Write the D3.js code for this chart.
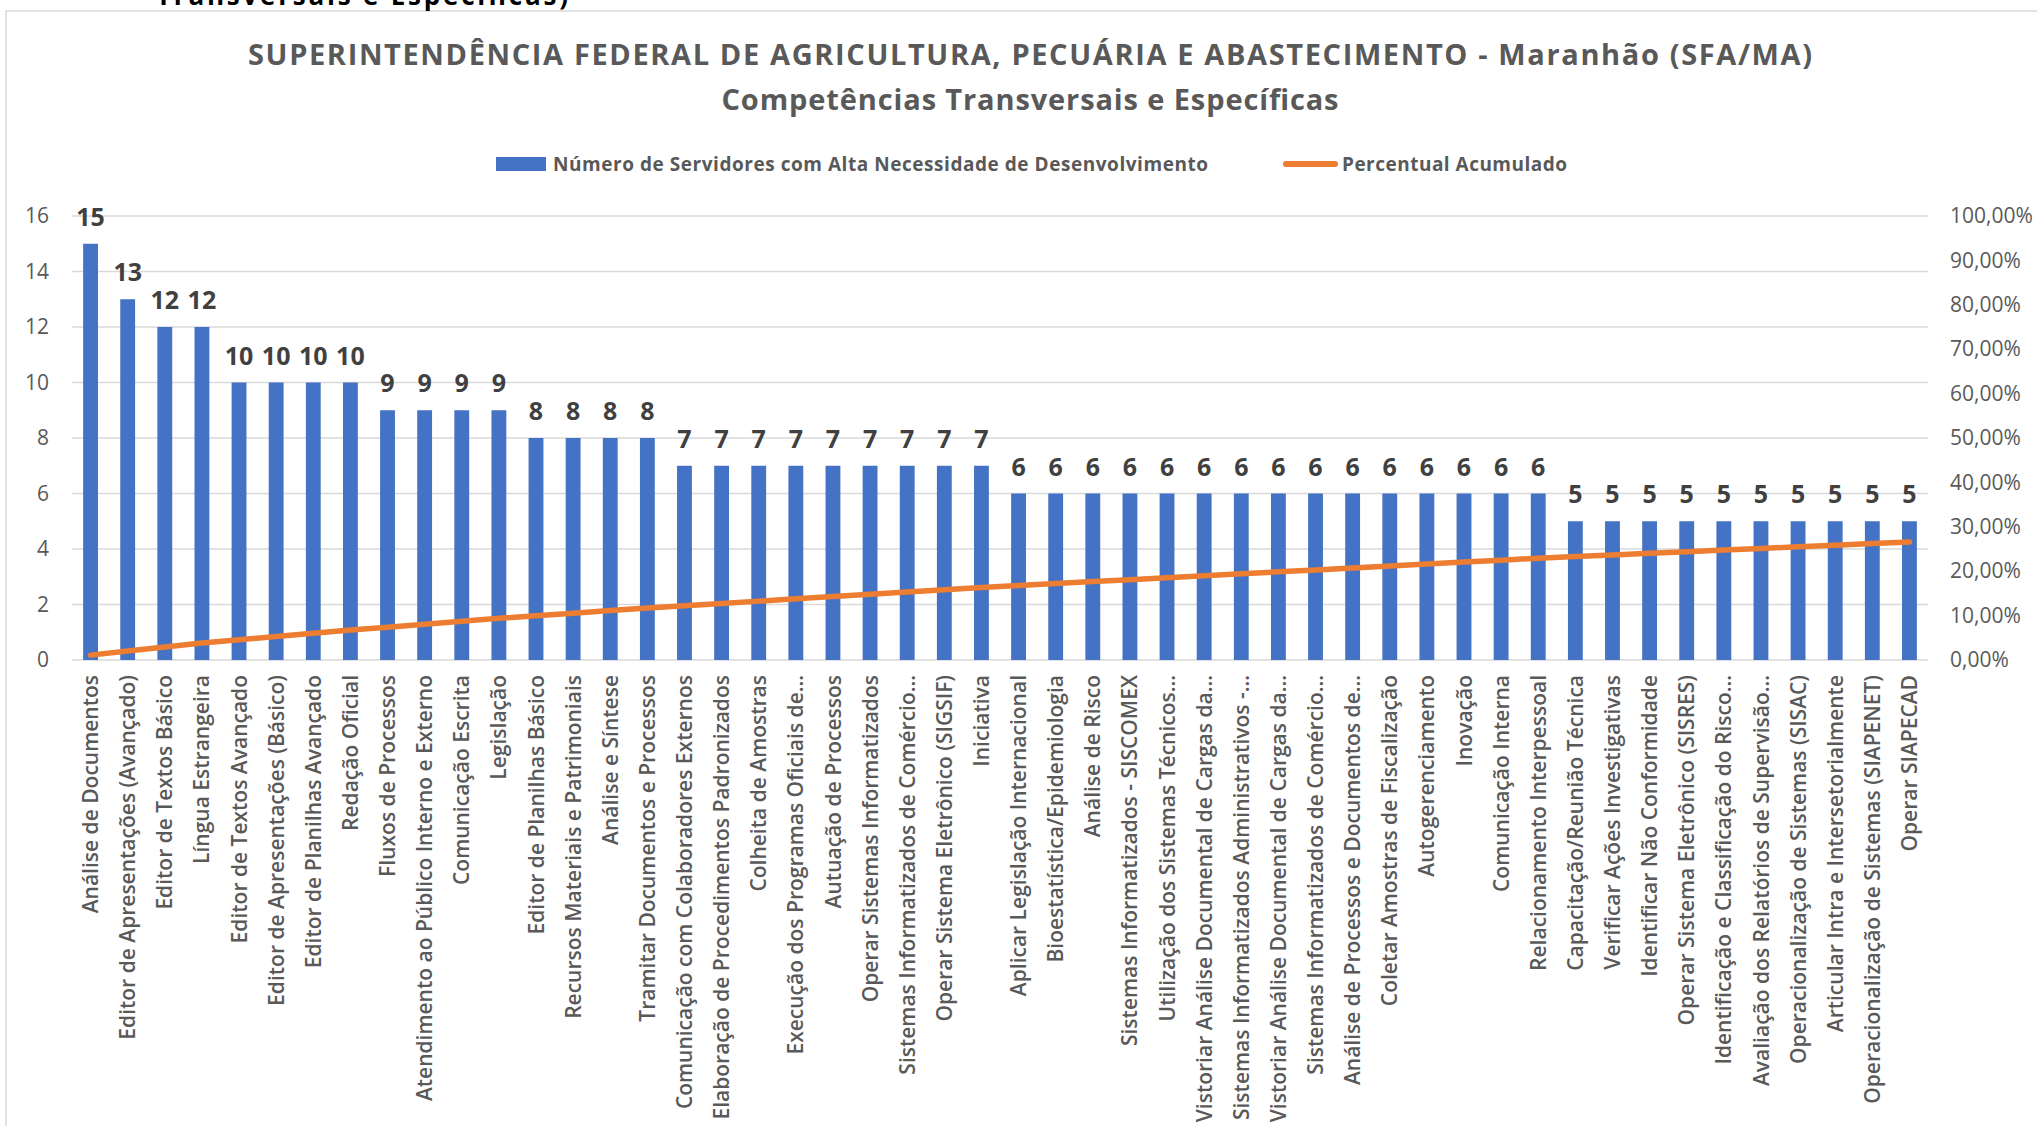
<!DOCTYPE html>
<html>
<head>
  <meta charset="utf-8">
  <script src="https://cdnjs.cloudflare.com/ajax/libs/d3/7.8.5/d3.min.js"></script>
  <title>SFA/MA - Competencias</title>
  <style>
    body { margin: 0; background: #fff; }
    text { font-family: "Open Sans", "Noto Sans", sans-serif; }
  </style>
</head>
<body>
<script>
// competencias (ordem do grafico)
const competencias = [
  "Análise de Documentos",
  "Editor de Apresentações (Avançado)",
  "Editor de Textos Básico",
  "Língua Estrangeira",
  "Editor de Textos Avançado",
  "Editor de Apresentações (Básico)",
  "Editor de Planilhas Avançado",
  "Redação Oficial",
  "Fluxos de Processos",
  "Atendimento ao Público Interno e Externo",
  "Comunicação Escrita",
  "Legislação",
  "Editor de Planilhas Básico",
  "Recursos Materiais e Patrimoniais",
  "Análise e Síntese",
  "Tramitar Documentos e Processos",
  "Comunicação com Colaboradores Externos",
  "Elaboração de  Procedimentos Padronizados",
  "Colheita de  Amostras",
  "Execução dos Programas Oficiais de...",
  "Autuação de Processos",
  "Operar Sistemas Informatizados",
  "Sistemas Informatizados de Comércio...",
  "Operar Sistema Eletrônico (SIGSIF)",
  "Iniciativa",
  "Aplicar Legislação Internacional",
  "Bioestatística/Epidemiologia",
  "Análise de Risco",
  "Sistemas Informatizados - SISCOMEX",
  "Utilização dos Sistemas Técnicos...",
  "Vistoriar Análise Documental de Cargas da...",
  "Sistemas Informatizados Administrativos -...",
  "Vistoriar Análise Documental de Cargas da...",
  "Sistemas Informatizados de Comércio...",
  "Análise de Processos e Documentos de...",
  "Coletar Amostras de Fiscalização",
  "Autogerenciamento",
  "Inovação",
  "Comunicação Interna",
  "Relacionamento Interpessoal",
  "Capacitação/Reunião Técnica",
  "Verificar Ações Investigativas",
  "Identificar Não Conformidade",
  "Operar Sistema Eletrônico (SISRES)",
  "Identificação e Classificação do Risco...",
  "Avaliação dos Relatórios de Supervisão...",
  "Operacionalização de Sistemas (SISAC)",
  "Articular Intra e Intersetorialmente",
  "Operacionalização de Sistemas (SIAPENET)",
  "Operar SIAPECAD"
];

// numero de servidores com alta necessidade
const servidores = [
  15, 13, 12, 12, 10, 10, 10, 10, 9, 9, 9, 9, 8, 8, 8, 8,
  7, 7, 7, 7, 7, 7, 7, 7, 7,
  6, 6, 6, 6, 6, 6, 6, 6, 6, 6, 6, 6, 6, 6, 6,
  5, 5, 5, 5, 5, 5, 5, 5, 5, 5
];

const acumulado = [
  0.0110, 0.0205, 0.0293, 0.0381, 0.0454, 0.0527, 0.0601, 0.0674, 0.0740, 0.0806,
  0.0872, 0.0938, 0.0996, 0.1055, 0.1114, 0.1172, 0.1223, 0.1275, 0.1326, 0.1377,
  0.1429, 0.1480, 0.1531, 0.1582, 0.1634, 0.1678, 0.1722, 0.1766, 0.1810, 0.1853,
  0.1897, 0.1941, 0.1985, 0.2029, 0.2073, 0.2117, 0.2161, 0.2205, 0.2249, 0.2293,
  0.2330, 0.2366, 0.2403, 0.2440, 0.2476, 0.2513, 0.2549, 0.2586, 0.2623, 0.2659
];

const ticksEsq = [0, 2, 4, 6, 8, 10, 12, 14, 16];
const ticksDir = [0, 0.1, 0.2, 0.3, 0.4, 0.5, 0.6, 0.7, 0.8, 0.9, 1];

const titulo1 = "SUPERINTENDÊNCIA FEDERAL DE AGRICULTURA, PECUÁRIA E ABASTECIMENTO - Maranhão (SFA/MA)";
const titulo2 = "Competências Transversais e Específicas";
const legendaBarra = "Número de Servidores com Alta Necessidade de Desenvolvimento";
const legendaLinha = "Percentual Acumulado";

const dataset = competencias.map((c, i) => ({ nome: c, valor: servidores[i], pct: acumulado[i] }));

const w = 2037;
const h = 1126;
const plotLeft = 72, plotRight = 1928, plotTop = 216, plotBase = 660;

const svg = d3.select("body")
  .append("svg")
  .attr("width", w)
  .attr("height", h);

// borda do grafico
svg.append("rect")
  .attr("x", 6).attr("y", 11)
  .attr("width", w + 20).attr("height", h + 20)
  .attr("fill", "none")
  .attr("stroke", "#d9d9d9")
  .attr("stroke-width", 1.5);

// resto do titulo da pagina (cortado no topo)
svg.append("text")
  .attr("x", 156).attr("y", 5)
  .attr("font-size", 26).attr("font-weight", 700)
  .attr("fill", "#000")
  .attr("textLength", 412)
  .text("Transversais e Específicas)");

const xScale = d3.scaleBand()
  .domain(d3.range(dataset.length))
  .range([plotLeft, plotRight])
  .paddingInner(0.6)
  .paddingOuter(0.3);

const yScale = d3.scaleLinear().domain([0, 16]).range([plotBase, plotTop]);
const y2Scale = d3.scaleLinear().domain([0, 1]).range([plotBase, plotTop]);

// grade
svg.append("g")
  .selectAll("line")
  .data(ticksEsq)
  .enter()
  .append("line")
  .attr("x1", plotLeft).attr("x2", plotRight)
  .attr("y1", d => yScale(d)).attr("y2", d => yScale(d))
  .attr("stroke", "#d9d9d9")
  .attr("stroke-width", 1.5);

// eixos
const yAxis = d3.axisLeft(yScale).tickValues(ticksEsq).tickSize(0).tickPadding(23);
const y2Axis = d3.axisRight(y2Scale).tickValues(ticksDir).tickSize(0).tickPadding(22)
  .tickFormat(d => d3.format(".2f")(d * 100).replace(".", ",") + "%");

svg.append("g")
  .attr("id", "y-axis")
  .attr("transform", "translate(" + plotLeft + ",0)")
  .call(yAxis)
  .call(g => g.select(".domain").remove())
  .selectAll("text")
  .attr("font-size", 21)
  .attr("fill", "#595959");

svg.append("g")
  .attr("id", "y2-axis")
  .attr("transform", "translate(" + plotRight + ",0)")
  .call(y2Axis)
  .call(g => g.select(".domain").remove())
  .selectAll("text")
  .attr("font-size", 21)
  .attr("fill", "#595959");

const xAxis = d3.axisBottom(xScale).tickSize(0).tickFormat(i => competencias[i]);

svg.append("g")
  .attr("id", "x-axis")
  .attr("transform", "translate(0," + plotBase + ")")
  .call(xAxis)
  .call(g => g.select(".domain").remove())
  .selectAll("text")
  .attr("transform", "rotate(-90)")
  .attr("x", -15)
  .attr("y", 0)
  .attr("dy", "0.36em")
  .style("text-anchor", "end")
  .attr("font-size", 21)
  .attr("font-weight", 600)
  .attr("fill", "#595959");

// barras
svg.selectAll(".bar")
  .data(dataset)
  .enter()
  .append("rect")
  .attr("class", "bar")
  .attr("x", (d, i) => xScale(i))
  .attr("width", xScale.bandwidth())
  .attr("y", d => yScale(d.valor))
  .attr("height", d => plotBase - yScale(d.valor))
  .attr("fill", "#4472c4");

// rotulos das barras
svg.selectAll(".rotulo")
  .data(dataset)
  .enter()
  .append("text")
  .attr("class", "rotulo")
  .attr("x", (d, i) => xScale(i) + xScale.bandwidth() / 2)
  .attr("y", d => yScale(d.valor) - 18)
  .attr("text-anchor", "middle")
  .attr("font-size", 25)
  .attr("font-weight", 700)
  .attr("fill", "#404040")
  .text(d => d.valor);

// linha do percentual acumulado
const line = d3.line()
  .x((d, i) => xScale(i) + xScale.bandwidth() / 2)
  .y(d => y2Scale(d.pct));

svg.append("path")
  .datum(dataset)
  .attr("d", line)
  .attr("fill", "none")
  .attr("stroke", "#ed7d31")
  .attr("stroke-width", 5.5)
  .attr("stroke-linecap", "round")
  .attr("stroke-linejoin", "round");

// titulos
svg.append("text")
  .attr("x", 1030).attr("y", 65)
  .attr("text-anchor", "middle")
  .attr("font-size", 29).attr("font-weight", 700)
  .attr("fill", "#595959")
  .attr("textLength", 1564)
  .text(titulo1);

svg.append("text")
  .attr("x", 1030).attr("y", 110)
  .attr("text-anchor", "middle")
  .attr("font-size", 29).attr("font-weight", 700)
  .attr("fill", "#595959")
  .attr("textLength", 617)
  .text(titulo2);

// legenda
const legend = svg.append("g").attr("id", "legend");

legend.append("rect")
  .attr("x", 496).attr("y", 157)
  .attr("width", 50).attr("height", 14)
  .attr("fill", "#4472c4");

legend.append("text")
  .attr("x", 553).attr("y", 171)
  .attr("font-size", 19).attr("font-weight", 700)
  .attr("fill", "#595959")
  .attr("textLength", 655)
  .text(legendaBarra);

legend.append("line")
  .attr("x1", 1286).attr("x2", 1335)
  .attr("y1", 164).attr("y2", 164)
  .attr("stroke", "#ed7d31")
  .attr("stroke-width", 6)
  .attr("stroke-linecap", "round");

legend.append("text")
  .attr("x", 1342).attr("y", 171)
  .attr("font-size", 19).attr("font-weight", 700)
  .attr("fill", "#595959")
  .attr("textLength", 225)
  .text(legendaLinha);
</script>
</body>
</html>
